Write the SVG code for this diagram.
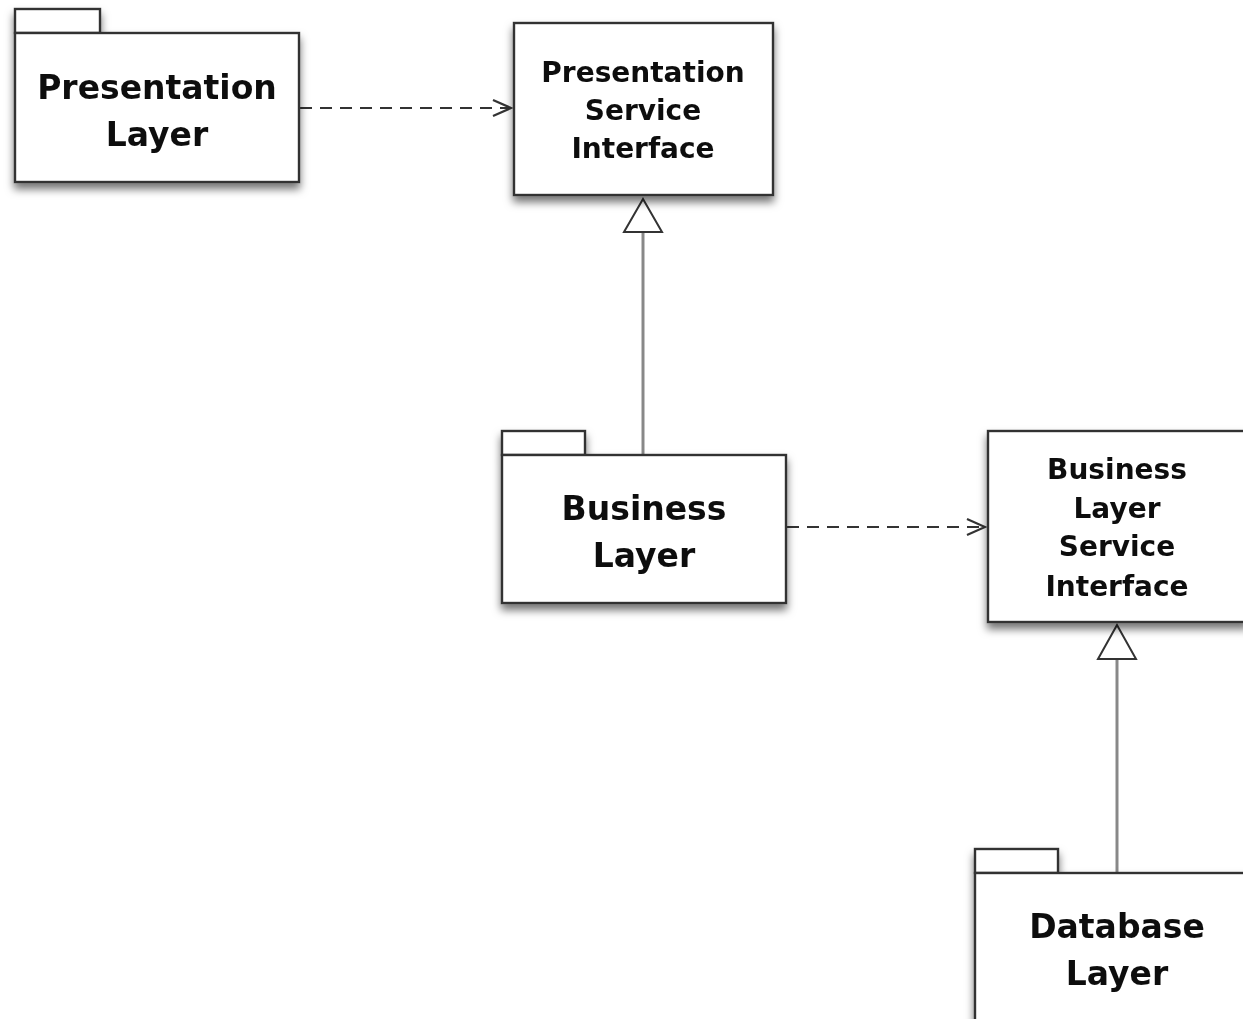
<svg xmlns="http://www.w3.org/2000/svg" width="1243" height="1019" viewBox="0 0 1243 1019">
<style>
.box{fill:#fff;stroke:#333;stroke-width:2.4}
.t{font-family:"DejaVu Sans",sans-serif;font-weight:bold;fill:#111;text-anchor:middle}
.big{font-size:33px}
.sm{font-size:28px}
.dash{fill:none;stroke:#333;stroke-width:2.2;stroke-dasharray:12 8}
.gen{fill:none;stroke:#888;stroke-width:3}
.tri{fill:#fff;stroke:#333;stroke-width:2}
</style>
<defs>
<filter id="sh" x="-10%" y="-10%" width="125%" height="130%">
<feDropShadow dx="0" dy="6" stdDeviation="4" flood-color="#000" flood-opacity="0.55"/>
</filter>
<marker id="open" markerWidth="22" markerHeight="20" refX="20" refY="10" orient="auto" markerUnits="userSpaceOnUse">
<path d="M2,2 L20,10 L2,18" fill="none" stroke="#333" stroke-width="2.2"/>
</marker>
</defs>
<g id="connectors">
<line class="dash" x1="300" y1="108" x2="511" y2="108" marker-end="url(#open)"/>
<line class="dash" x1="787" y1="527" x2="985" y2="527" marker-end="url(#open)"/>
<line class="gen" x1="643" y1="455" x2="643" y2="232"/>
<polygon class="tri" points="643,199 624,232 662,232"/>
<line class="gen" x1="1117" y1="873" x2="1117" y2="659"/>
<polygon class="tri" points="1117,625 1098,659 1136,659"/>
</g>
<g id="presentation-layer" filter="url(#sh)">
<rect class="box" x="15" y="9" width="85" height="24"/>
<rect class="box" x="15" y="33" width="284" height="149"/>
<text class="t big" x="157" y="99">Presentation</text>
<text class="t big" x="157" y="146">Layer</text>
</g>
<g id="presentation-service-interface" filter="url(#sh)">
<rect class="box" x="514" y="23" width="259" height="172"/>
<text class="t sm" x="643" y="82">Presentation</text>
<text class="t sm" x="643" y="120">Service</text>
<text class="t sm" x="643" y="158">Interface</text>
</g>
<g id="business-layer" filter="url(#sh)">
<rect class="box" x="502" y="431" width="83" height="24"/>
<rect class="box" x="502" y="455" width="284" height="148"/>
<text class="t big" x="644" y="520">Business</text>
<text class="t big" x="644" y="567">Layer</text>
</g>
<g id="business-layer-service-interface" filter="url(#sh)">
<rect class="box" x="988" y="431" width="260" height="191"/>
<text class="t sm" x="1117" y="479">Business</text>
<text class="t sm" x="1117" y="518">Layer</text>
<text class="t sm" x="1117" y="556">Service</text>
<text class="t sm" x="1117" y="596">Interface</text>
</g>
<g id="database-layer" filter="url(#sh)">
<rect class="box" x="975" y="849" width="83" height="24"/>
<rect class="box" x="975" y="873" width="284" height="160"/>
<text class="t big" x="1117" y="938">Database</text>
<text class="t big" x="1117" y="985">Layer</text>
</g>
</svg>
